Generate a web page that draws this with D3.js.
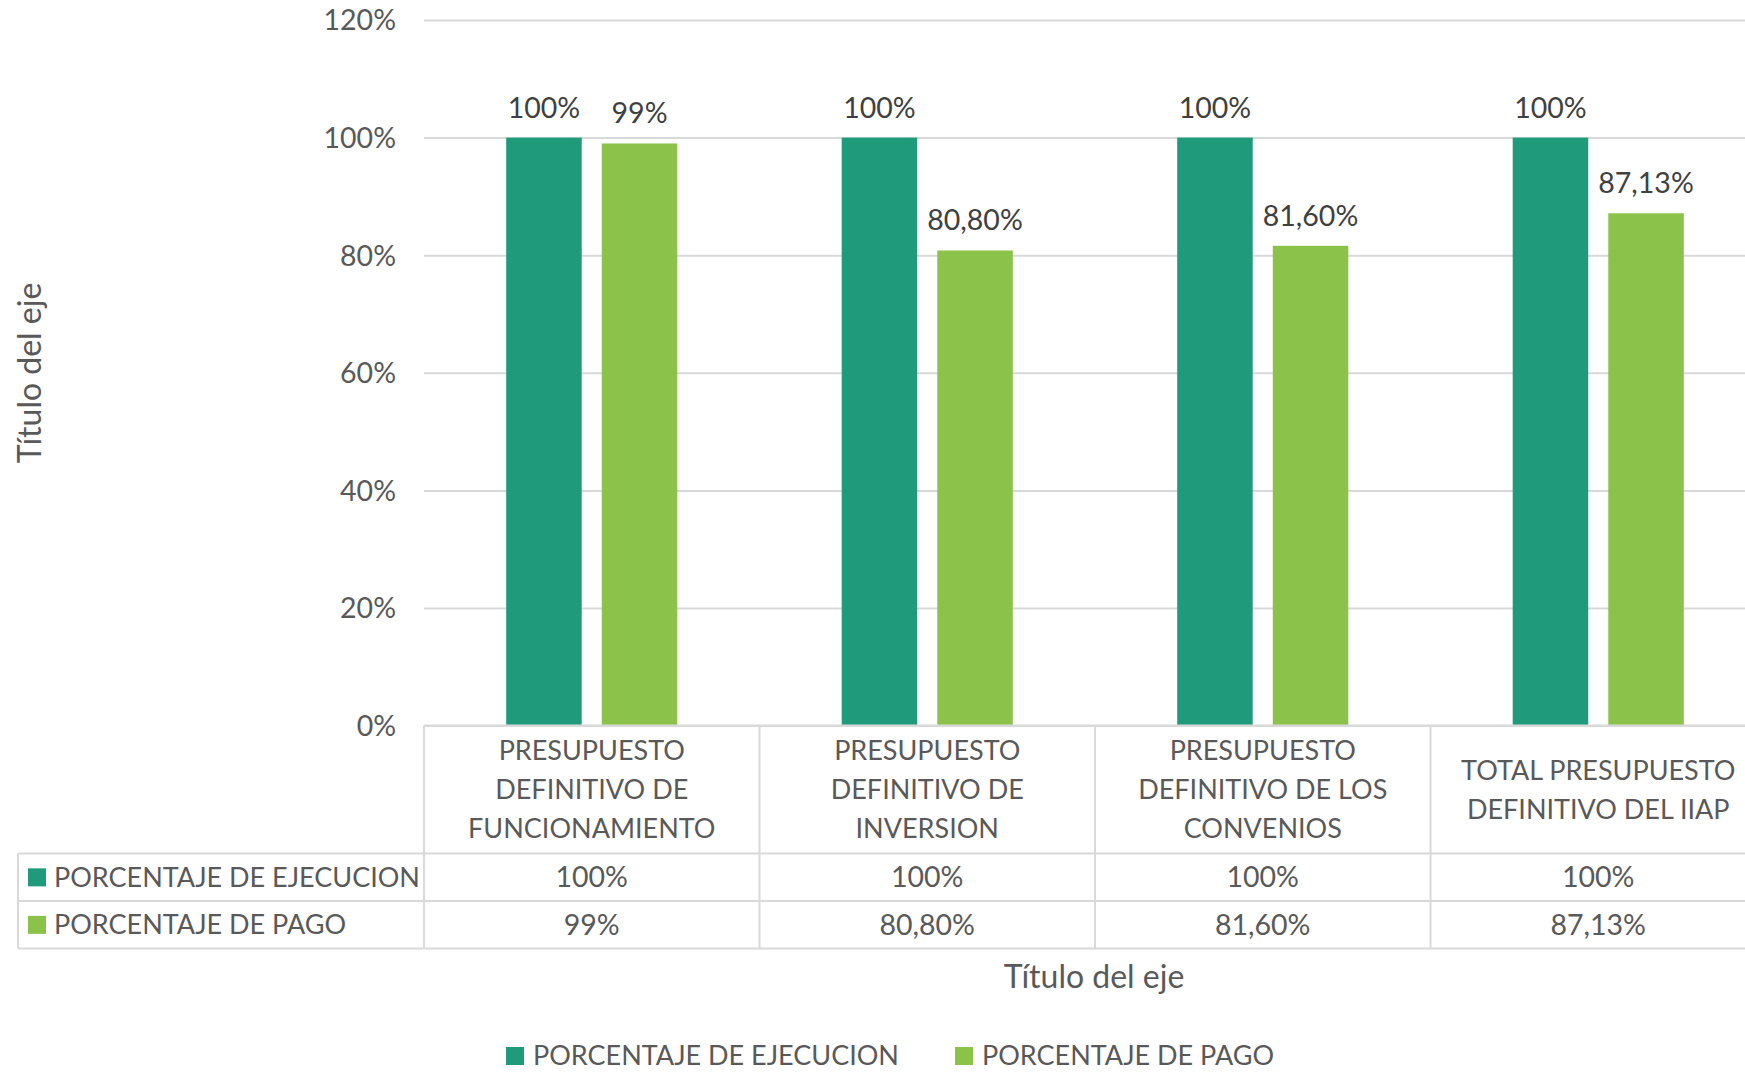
<!DOCTYPE html>
<html>
<head>
<meta charset="utf-8">
<script src="https://cdn.jsdelivr.net/npm/d3@7"></script>
<style>
  body { margin: 0; background: #fff; }
  text { font-family: Lato, "Open Sans", sans-serif; fill: #595959; }
</style>
</head>
<body>
<svg id="chart" width="1745" height="1072"></svg>
<script>
var categories = [
  ["PRESUPUESTO", "DEFINITIVO DE", "FUNCIONAMIENTO"],
  ["PRESUPUESTO", "DEFINITIVO DE", "INVERSION"],
  ["PRESUPUESTO", "DEFINITIVO DE LOS", "CONVENIOS"],
  ["TOTAL PRESUPUESTO", "DEFINITIVO DEL IIAP"]
];
var seriesNames = ["PORCENTAJE DE EJECUCION", "PORCENTAJE DE PAGO"];
var ejecucion = [1.00, 1.00, 1.00, 1.00];
var pago = [0.99, 0.808, 0.816, 0.8713];
var ejecucionLabels = ["100%", "100%", "100%", "100%"];
var pagoLabels = ["99%", "80,80%", "81,60%", "87,13%"];
var yTicks = [0, 0.2, 0.4, 0.6, 0.8, 1.0, 1.2];

(function() {

var colors = ["#1f9b7b", "#8bc249"];
var gridColor = "#d9d9d9";

var svg = d3.select("#chart");
var W = +svg.attr("width");

var left = 424, bandW = 335.5, plotTop = 20, bottom = 725.6;
var headerH = 128, rowH = 47.5;
var fs = 27, fsNum = 28.5;

var keys = categories.map(function(d, i) { return "c" + i; });

var x = d3.scaleBand()
    .domain(keys)
    .range([left, left + bandW * keys.length])
    .paddingInner(0).paddingOuter(0);

var x1 = d3.scaleBand()
    .domain([0, 1])
    .range([bandW * 0.245, bandW * 0.755])
    .paddingInner(0.21);

var y = d3.scaleLinear()
    .domain([0, 1.2])
    .range([bottom, plotTop]);

var rows = categories.map(function(c, i) {
  return { key: keys[i], vals: [ejecucion[i], pago[i]], labs: [ejecucionLabels[i], pagoLabels[i]] };
});

// gridlines + y tick labels
var yAxis = svg.append("g")
    .attr("transform", "translate(" + left + ",0)")
    .call(d3.axisLeft(y).tickValues(yTicks).tickSize(-(W - left)).tickPadding(28)
      .tickFormat(function(d) { return Math.round(d * 100) + "%"; }));
yAxis.select(".domain").remove();
yAxis.selectAll("line").attr("stroke", gridColor).attr("stroke-width", 2);
yAxis.selectAll("text")
    .style("font-family", "Lato, sans-serif")
    .attr("font-size", fsNum).attr("fill", "#595959").attr("dy", "0.35em");

// bars
var grp = svg.selectAll(".cat")
  .data(rows)
  .enter().append("g")
    .attr("class", "cat")
    .attr("transform", function(d) { return "translate(" + x(d.key) + ",0)"; });

var cells = function(d) { return d.vals.map(function(v, j) { return { v: v, j: j, lab: d.labs[j] }; }); };

grp.selectAll("rect")
  .data(cells)
  .enter().append("rect")
    .attr("x", function(d) { return x1(d.j); })
    .attr("width", x1.bandwidth())
    .attr("y", function(d) { return y(d.v); })
    .attr("height", function(d) { return bottom - y(d.v); })
    .attr("fill", function(d) { return colors[d.j]; });

grp.selectAll(".lbl")
  .data(cells)
  .enter().append("text")
    .attr("class", "lbl")
    .attr("x", function(d) { return x1(d.j) + x1.bandwidth() / 2; })
    .attr("y", function(d) { return y(d.v) - 20; })
    .attr("text-anchor", "middle")
    .attr("font-size", fsNum)
    .style("fill", "#404040")
    .text(function(d) { return d.lab; });

// data table
var tableLeft = 18, tableRight = W + 30;
var t = svg.append("g");
var hLines = [bottom, bottom + headerH, bottom + headerH + rowH, bottom + headerH + rowH * 2];
t.selectAll(".hl")
  .data(hLines)
  .enter().append("line")
    .attr("x1", function(d, i) { return i === 0 ? left : tableLeft; })
    .attr("x2", tableRight)
    .attr("y1", function(d) { return d; })
    .attr("y2", function(d) { return d; })
    .attr("stroke", gridColor).attr("stroke-width", 2);

t.selectAll(".vl")
  .data(keys)
  .enter().append("line")
    .attr("x1", function(k) { return x(k); })
    .attr("x2", function(k) { return x(k); })
    .attr("y1", bottom)
    .attr("y2", hLines[3])
    .attr("stroke", gridColor).attr("stroke-width", 2);
t.append("line")
    .attr("x1", tableLeft).attr("x2", tableLeft)
    .attr("y1", hLines[1]).attr("y2", hLines[3])
    .attr("stroke", gridColor).attr("stroke-width", 2);

// category headers
var lineH = 39;
rows.forEach(function(r, i) {
  var lines = categories[i];
  var cy = bottom + headerH / 2;
  var y0 = cy - (lines.length - 1) * lineH / 2;
  t.append("text")
    .attr("text-anchor", "middle")
    .attr("font-size", fs)
    .selectAll("tspan")
    .data(lines)
    .enter().append("tspan")
      .attr("x", x(r.key) + bandW / 2)
      .attr("y", function(d, k) { return y0 + k * lineH; })
      .attr("dy", "0.35em")
      .text(function(d) { return d; });
});

// table rows
var rowVals = [ejecucionLabels, pagoLabels];
seriesNames.forEach(function(name, j) {
  var cy = bottom + headerH + rowH * j + rowH / 2;
  t.append("rect")
    .attr("x", 28).attr("y", cy - 9)
    .attr("width", 18).attr("height", 18)
    .attr("fill", colors[j]);
  t.append("text")
    .attr("x", 54).attr("y", cy).attr("dy", "0.35em")
    .attr("font-size", fs)
    .text(name);
  rowVals[j].forEach(function(v, i) {
    t.append("text")
      .attr("x", x(keys[i]) + bandW / 2).attr("y", cy).attr("dy", "0.35em")
      .attr("text-anchor", "middle")
      .attr("font-size", fsNum)
      .text(v);
  });
});

// axis titles
svg.append("text")
  .attr("x", 1094).attr("y", 977).attr("dy", "0.35em")
  .attr("text-anchor", "middle")
  .attr("font-size", 32)
  .text("Título del eje");

svg.append("text")
  .attr("transform", "translate(30,373) rotate(-90)")
  .attr("dy", "0.35em")
  .attr("text-anchor", "middle")
  .attr("font-size", 32)
  .text("Título del eje");

// legend
var legendX = [506, 955];
var leg = svg.selectAll(".leg")
  .data(seriesNames)
  .enter().append("g")
    .attr("class", "leg")
    .attr("transform", function(d, i) { return "translate(" + legendX[i] + ",1056)"; });
leg.append("rect")
  .attr("x", 0).attr("y", -9)
  .attr("width", 18).attr("height", 18)
  .attr("fill", function(d, i) { return colors[i]; });
leg.append("text")
  .attr("x", 27).attr("dy", "0.35em")
  .attr("font-size", fs)
  .text(function(d) { return d; });

})();
</script>
</body>
</html>
